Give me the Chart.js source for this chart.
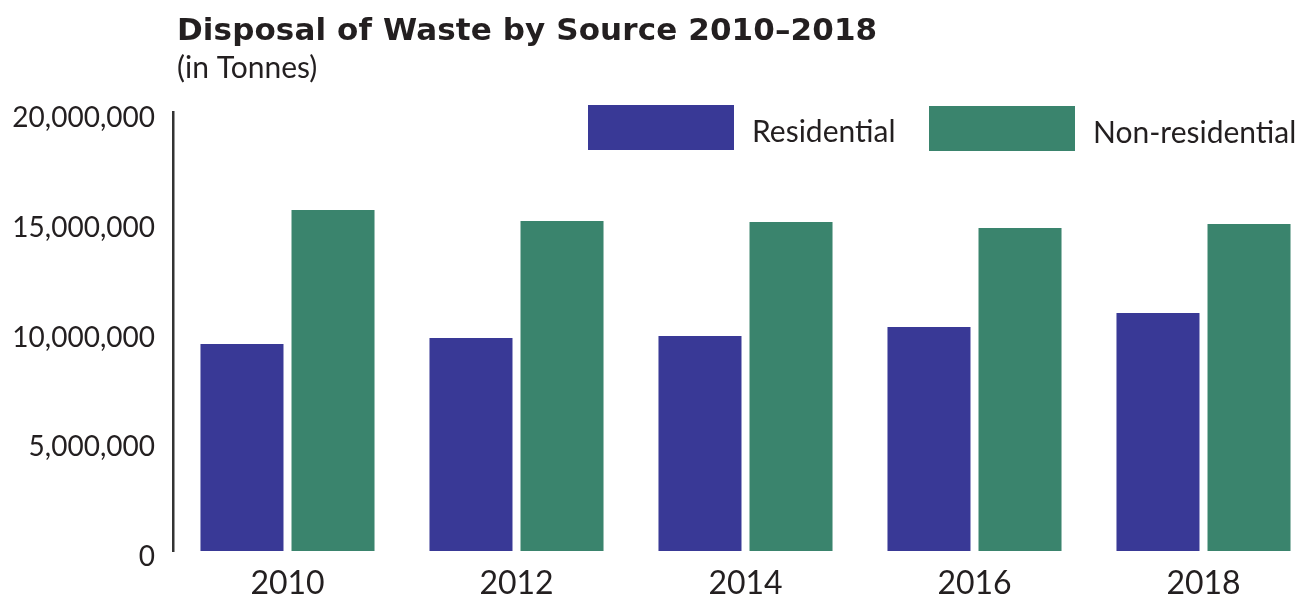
<!DOCTYPE html>
<html><head><meta charset="utf-8">
<script src="https://cdn.jsdelivr.net/npm/chart.js@4.4.0/dist/chart.umd.min.js"></script>
<style>html,body{margin:0;padding:0;overflow:hidden;background:#fff}</style>
</head><body>
<canvas id="c" width="1318" height="602"></canvas>
<script>
const titleText = 'Disposal of Waste by Source 2010–2018';
const subtitleText = '(in Tonnes)';
const years = ['2010', '2012', '2014', '2016', '2018'];
const residential = [9430000, 9700000, 9790000, 10200000, 10840000];
const nonResidential = [15540000, 15030000, 14990000, 14720000, 14900000];
const seriesNames = ['Residential', 'Non-residential'];
const yTickValues = [0, 5000000, 10000000, 15000000, 20000000];

const TEXT = '#231f20';
const COLORS = ['#393996', '#3a846d'];

const decor = {
  id: 'decor',
  afterDraw(chart) {
    const ctx = chart.ctx;
    ctx.save();
    ctx.fillStyle = TEXT;
    ctx.textBaseline = 'alphabetic';
    ctx.textAlign = 'left';
    ctx.font = 'bold 31px "DejaVu Sans"';
    const w = ctx.measureText(titleText).width;
    const target = 700;
    const ls = (target - w) / (titleText.length - 1);
    ctx.letterSpacing = ls.toFixed(2) + 'px';
    ctx.fillText(titleText, 177, 40);
    ctx.letterSpacing = '0px';
    ctx.font = '30px Lato';
    ctx.fillText(subtitleText, 177, 78);
    // legend
    const items = [{x: 588, y: 105}, {x: 929, y: 106}];
    chart.data.datasets.forEach((ds, i) => {
      const it = items[i];
      ctx.fillStyle = ds.backgroundColor;
      ctx.fillRect(it.x, it.y, 146, 45);
      ctx.fillStyle = TEXT;
      ctx.font = '30px Lato';
      ctx.textBaseline = 'middle';
      ctx.fillText(ds.label, it.x + 164, it.y + 27);
    });
    ctx.restore();
  }
};

new Chart(document.getElementById('c'), {
  type: 'bar',
  data: {
    labels: years,
    datasets: [
      {label: seriesNames[0], data: residential, backgroundColor: COLORS[0]},
      {label: seriesNames[1], data: nonResidential, backgroundColor: COLORS[1]}
    ]
  },
  options: {
    responsive: false,
    animation: false,
    layout: {padding: {top: 112, left: 0, right: 0, bottom: 0}},
    datasets: {bar: {barPercentage: 0.912, categoryPercentage: 0.795}},
    plugins: {legend: {display: false}, title: {display: false}, tooltip: {enabled: false}},
    scales: {
      x: {
        grid: {display: false, drawTicks: false},
        border: {display: false},
        ticks: {color: TEXT, font: {family: 'Lato', size: 32}, padding: 13, maxRotation: 0},
        afterFit(s) { s.height = 51; }
      },
      y: {
        min: 0, max: 20000000,
        afterBuildTicks(s) { s.ticks = yTickValues.map(v => ({value: v})); },
        grid: {display: false, drawTicks: false},
        border: {display: true, color: '#333333', width: 2.5},
        ticks: {color: TEXT, font: {family: 'Lato', size: 28}, padding: 18, labelOffset: 6,
          callback: v => Number(v).toLocaleString('en-US')},
        afterFit(s) { s.width = 173; }
      }
    }
  },
  plugins: [decor]
});
</script>
</body></html>
